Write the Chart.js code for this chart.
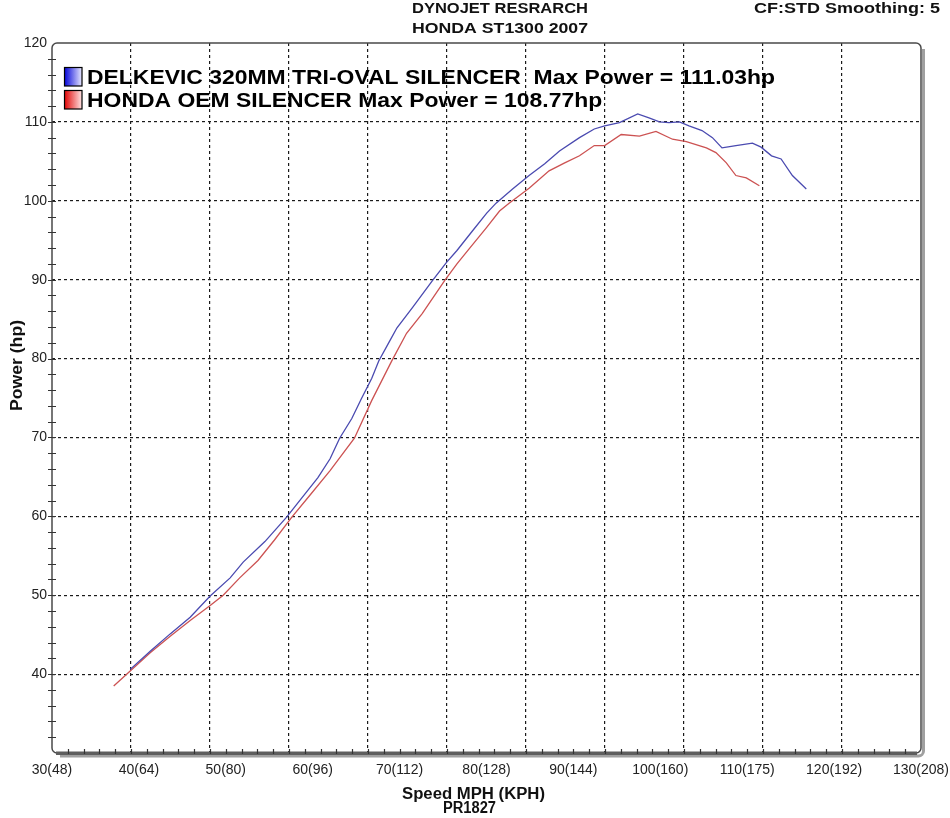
<!DOCTYPE html>
<html><head><meta charset="utf-8">
<script src="https://cdn.jsdelivr.net/npm/chart.js@4"></script>
<style>html,body{margin:0;padding:0;background:#fff}canvas{display:block}</style>
</head><body>
<canvas id="c" width="950" height="818"></canvas>
<script>
// ---- data (read from the dyno sheet) ----
const seriesNames = ['DELKEVIC 320MM TRI-OVAL SILENCER', 'HONDA OEM SILENCER'];
const legendLabels = ['DELKEVIC 320MM TRI-OVAL SILENCER  Max Power = 111.03hp', 'HONDA OEM SILENCER Max Power = 108.77hp'];
const titleLines = ['DYNOJET RESRARCH', 'HONDA ST1300 2007'];
const cornerNote = 'CF:STD Smoothing: 5';
const xTitleLines = ['Speed MPH (KPH)', 'PR1827'];
const yTitle = 'Power (hp)';
const xTickLabels = ['30(48)','40(64)','50(80)','60(96)','70(112)','80(128)','90(144)','100(160)','110(175)','120(192)','130(208)'];
const yTickLabels = ['40','50','60','70','80','90','100','110','120'];

const speedDelkevic = [39.0,41.3,43.6,45.9,48.2,50.5,52.0,54.5,57.0,58.5,60.6,62.0,63.1,64.5,65.6,66.8,67.6,68.9,69.7,71.5,73.8,75.4,76.6,78.4,80.0,81.1,83.0,84.9,86.7,88.4,90.7,92.4,93.6,95.3,97.4,98.7,99.9,101.0,102.2,103.3,104.8,106.0,107.1,108.7,110.6,111.6,112.8,113.9,115.2,116.8];
const powerDelkevic = [40.6,42.9,45.1,47.2,49.9,52.2,54.2,56.8,59.9,62.0,64.9,67.3,69.9,72.4,74.9,77.5,79.7,82.3,83.9,86.5,89.9,92.2,93.7,96.2,98.4,99.7,101.5,103.2,104.7,106.3,108.0,109.1,109.5,109.9,111.0,110.5,110.0,109.9,110.0,109.5,108.9,108.0,106.7,107.0,107.3,106.8,105.7,105.3,103.2,101.5];
const speedOem = [37.1,39.0,41.3,43.6,45.9,48.2,49.7,51.6,53.7,55.6,57.6,59.7,62.0,64.8,66.8,69.1,70.8,72.6,75.2,76.6,78.0,80.0,81.5,82.6,84.9,87.2,89.0,90.7,92.4,93.6,95.5,97.6,99.5,101.4,103.0,105.3,106.4,107.6,108.7,109.9,111.4];
const powerOem = [38.5,40.4,42.7,44.8,46.8,48.7,50.0,52.2,54.4,57.0,59.9,62.7,65.8,69.9,74.7,79.7,83.2,85.7,89.9,92.0,93.9,96.6,98.7,99.7,101.6,103.8,104.8,105.7,107.0,107.0,108.4,108.2,108.8,107.8,107.5,106.7,106.1,104.8,103.2,102.9,101.9];

const lineColors = ['#4a4ab0', '#cc5252'];
const swatchColors = [['#0000d8', '#e8e8ff'], ['#e00000', '#ffe4e4']];

const FONT = '"Liberation Sans", Arial, sans-serif';

function fitText(ctx, text, x, y, w, font, align) {
  ctx.save();
  ctx.font = font;
  const m = ctx.measureText(text).width;
  const s = w / m;
  ctx.translate(x, y);
  ctx.scale(s, 1);
  ctx.textAlign = align || 'center';
  ctx.textBaseline = 'alphabetic';
  ctx.fillText(text, 0, 0);
  ctx.restore();
  return s;
}

const decor = {
  id: 'decor',
  afterDraw(chart) {
    const ctx = chart.ctx;
    const {left, right, top, bottom} = chart.chartArea;
    ctx.save();
    // shadow right & bottom
    ctx.strokeStyle = '#a0a0a0';
    ctx.lineWidth = 3;
    ctx.beginPath();
    ctx.moveTo(right + 2.5, top + 6);
    ctx.lineTo(right + 2.5, bottom - 2);
    ctx.arcTo(right + 2.5, bottom + 3, right - 3, bottom + 3, 5);
    ctx.lineTo(left + 8, bottom + 3);
    ctx.stroke();
    // frame
    ctx.strokeStyle = '#4a4a4a';
    ctx.lineWidth = 1.5;
    const r = 5;
    ctx.beginPath();
    ctx.moveTo(left, bottom - r);
    ctx.lineTo(left, top + r);
    ctx.arcTo(left, top, left + r, top, r);
    ctx.lineTo(right - r, top);
    ctx.arcTo(right, top, right, top + r, r);
    ctx.lineTo(right, bottom - r);
    ctx.arcTo(right, bottom, right - r, bottom, r);
    ctx.lineTo(left + r, bottom);
    ctx.arcTo(left, bottom, left, bottom - r, r);
    ctx.stroke();
    // bottom bar
    ctx.fillStyle = '#5e5e5e';
    ctx.fillRect(left + 4, bottom - 1.5, right - left - 8, 3.5);
    // minor ticks
    ctx.strokeStyle = '#333';
    ctx.lineWidth = 1.2;
    const xs = chart.scales.x, ys = chart.scales.y;
    ctx.beginPath();
    xs.ticks.forEach(t => {
      if (t.value <= xs.min || t.value >= xs.max) return;
      const px = Math.round(xs.getPixelForValue(t.value)) + 0.5;
      ctx.moveTo(px, bottom - 4);
      ctx.lineTo(px, bottom + 1);
    });
    ys.ticks.forEach(t => {
      if (t.value <= ys.min || t.value >= ys.max) return;
      const py = Math.round(ys.getPixelForValue(t.value)) + 0.5;
      ctx.moveTo(left - 4, py);
      ctx.lineTo(left + 4, py);
    });
    ctx.stroke();

    // titles
    ctx.fillStyle = '#111';
    fitText(ctx, titleLines[0], 500, 13, 176, 'bold 14px ' + FONT);
    fitText(ctx, titleLines[1], 500, 33, 176, 'bold 14px ' + FONT);
    fitText(ctx, cornerNote, 940, 13, 186, 'bold 14px ' + FONT, 'right');
    fitText(ctx, xTitleLines[0], 473.5, 799, 143, 'bold 16px ' + FONT);
    fitText(ctx, xTitleLines[1], 469.5, 813, 53, 'bold 16px ' + FONT);
    ctx.save();
    ctx.translate(22, 365.5);
    ctx.rotate(-Math.PI / 2);
    fitText(ctx, yTitle, 0, 0, 91, 'bold 17px ' + FONT);
    ctx.restore();

    // legend
    ctx.font = 'bold 21px ' + FONT;
    const s = 688 / ctx.measureText(legendLabels[0]).width;
    const rowsY = [67, 90];
    legendLabels.forEach((lab, i) => {
      const y0 = rowsY[i];
      const g = ctx.createLinearGradient(64, 0, 82, 0);
      g.addColorStop(0, swatchColors[i][0]);
      g.addColorStop(1, swatchColors[i][1]);
      ctx.fillStyle = g;
      ctx.fillRect(64, y0, 18, 19);
      ctx.strokeStyle = '#000';
      ctx.lineWidth = 1.2;
      ctx.strokeRect(64.5, y0 + 0.5, 17.5, 18.5);
      ctx.save();
      ctx.fillStyle = '#000';
      ctx.translate(87, y0 + 17);
      ctx.scale(s, 1);
      ctx.textAlign = 'left';
      ctx.textBaseline = 'alphabetic';
      ctx.fillText(lab, 0, 0);
      ctx.restore();
    });
    ctx.restore();
  }
};

const gridColor = (lo, hi) => (c) => {
  const v = c.tick ? c.tick.value : null;
  return (v !== null && v % 10 === 0 && v > lo && v < hi) ? '#1a1a1a' : 'rgba(0,0,0,0)';
};

new Chart(document.getElementById('c'), {
  type: 'line',
  data: {
    datasets: [
      { label: seriesNames[0], data: speedDelkevic.map((x, i) => ({x, y: powerDelkevic[i]})),
        borderColor: lineColors[0], borderWidth: 1.3, pointRadius: 0, fill: false, tension: 0, xAxisID: 'x2', yAxisID: 'y' },
      { label: seriesNames[1], data: speedOem.map((x, i) => ({x, y: powerOem[i]})),
        borderColor: lineColors[1], borderWidth: 1.3, pointRadius: 0, fill: false, tension: 0, xAxisID: 'x2', yAxisID: 'y' }
    ]
  },
  options: {
    responsive: false,
    animation: false,
    devicePixelRatio: 1,
    layout: { padding: { top: 43, right: 29, left: 0, bottom: 0 } },
    plugins: { legend: { display: false }, tooltip: { enabled: false }, title: { display: false } },
    scales: {
      x: {
        type: 'linear', position: 'bottom', min: 30, max: 140, weight: 0,
        ticks: { stepSize: 2, display: false, autoSkip: false },
        grid: { color: gridColor(30, 140), lineWidth: 1.2, drawTicks: false },
        border: { display: false, dash: [3, 3] },
        afterFit(s) { s.height = 0; s.paddingLeft = 0; s.paddingRight = 0; }
      },
      x2: {
        type: 'linear', position: 'bottom', min: 30, max: 130, weight: 1,
        ticks: { stepSize: 10, autoSkip: false, maxRotation: 0, padding: 9, color: '#222',
          font: { family: FONT, size: 14 }, callback: (v, i) => xTickLabels[i] },
        grid: { display: false, drawTicks: false },
        border: { display: false },
        afterFit(s) { s.height = 65; s.paddingLeft = 0; s.paddingRight = 0; }
      },
      y: {
        type: 'linear', position: 'left', min: 30, max: 120,
        ticks: { stepSize: 2, autoSkip: false, padding: 5, color: '#222',
          font: { family: FONT, size: 14 },
          callback: (v) => yTickLabels.includes(String(v)) ? String(v) : '' },
        grid: { color: gridColor(30, 120), lineWidth: 1.2, drawTicks: false },
        border: { display: false, dash: [3, 3] },
        afterFit(s) { s.width = 52; s.paddingTop = 0; s.paddingBottom = 0; }
      }
    }
  },
  plugins: [decor]
});
</script>
</body></html>
